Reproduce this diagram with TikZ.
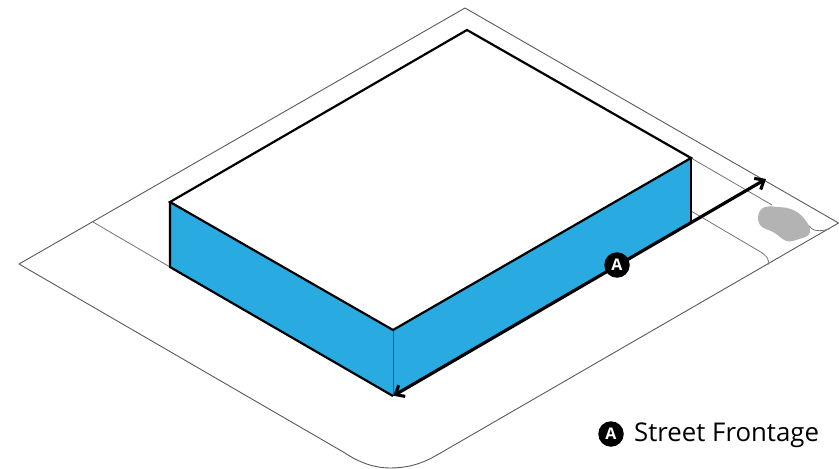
\documentclass[tikz,border=0pt]{standalone}
\usepackage{fontspec}
\setmainfont{Open Sans}
\usetikzlibrary{arrows.meta}
\definecolor{facade}{HTML}{29ABE2}
\definecolor{carg}{HTML}{B3B3B3}
\tikzset{
  site/.style={draw=black!65,line width=0.9pt,line join=round},
  thinl/.style={draw=black!55,line width=0.8pt},
  edge/.style={draw=black,line width=2.2pt,line join=miter},
  dim/.style={draw=black,line width=3.2pt,{Straight Barb[length=7.5pt,width=13pt,line width=3.1pt]}-{Straight Barb[length=7.5pt,width=13pt,line width=3.1pt]},shorten <=0.5pt},
  badge/.style={circle,fill=black,text=white,inner sep=0pt,minimum size=25.5pt,font=\bfseries\fontsize{16}{16}\selectfont},
}
\begin{document}
\begin{tikzpicture}[x=1pt,y=-1pt]
\useasboundingbox (0,0) rectangle (839,469);
% coordinates
\coordinate (L) at (19,264);
\coordinate (T) at (465,8);
\coordinate (R) at (838.5,223);
\coordinate (TL) at (170,202);
\coordinate (TT) at (467,30);
\coordinate (TR) at (691,158);
\coordinate (TF) at (393,330);
\coordinate (BL) at (170,267);
\coordinate (BF) at (393,396);
\coordinate (BR) at (691,223);
\coordinate (AE) at (766,179);
% site outline
\draw[site] (L) -- (T) -- (R) -- (437,455)
  .. controls (420,465) and (405,468) .. (390,468)
  .. controls (375,468) and (360,463) .. (345,453) -- cycle;
% inner street lines
\draw[thinl] (93,222) -- (BL);
\draw[thinl] (TR) -- (772,205);
\draw[thinl] (691,211) -- (759,251) .. controls (766,255) and (770,259) .. (768,265);
\draw[thinl] (809,226) .. controls (812,231) and (820,232) .. (829,229);
% car
\fill[carg] plot[smooth cycle,tension=0.7] coordinates {(758,217) (761,209.5) (768,206.5) (778,207) (789,208.5) (799,213.5) (806,221) (810,229) (808,235.5) (799,239) (789,241.5) (782,238.5) (774,232.5) (766,229) (760,225)};
% building
\fill[white] (TL) -- (TT) -- (TR) -- (TF) -- cycle;
\fill[facade] (TL) -- (TF) -- (TR) -- (BR) -- (BF) -- (BL) -- cycle;
\draw[draw=black!45!facade,line width=0.9pt] (TF) -- (BF);
\draw[edge] (TF) -- (TL) -- (TT) -- (TR) -- (TF);
\draw[edge] (TL) -- (BL) -- (BF);
\draw[edge,line width=1.5pt] (TR) -- (BR);
% dimension
\draw[dim] (BF) -- (AE);
\node[badge] (A) at (617,265) {A};
% legend
\node[badge] (LA) at (611,434) {A};
\node[anchor=base west,inner sep=0pt,font=\fontsize{25.8}{25.8}\selectfont] (LT) at (634,441) {Street Frontage};
\end{tikzpicture}
\end{document}
